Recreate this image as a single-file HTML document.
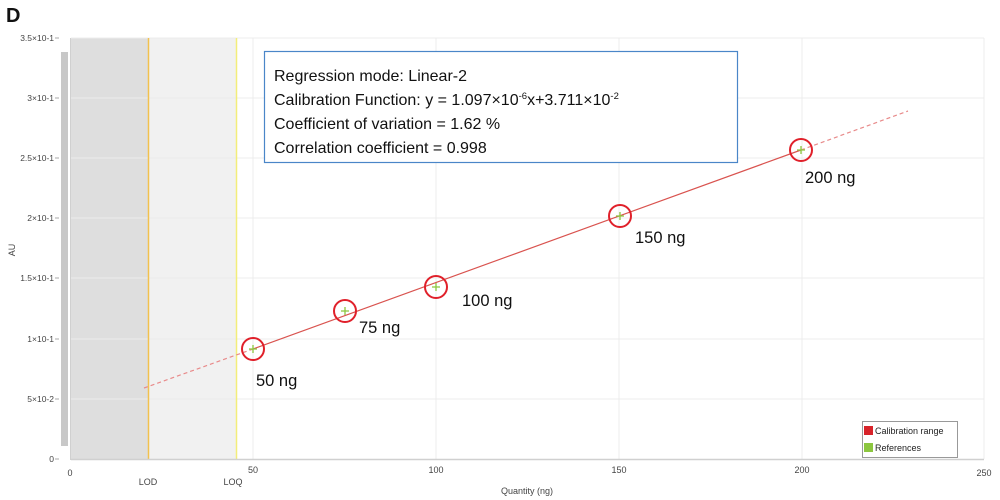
<!DOCTYPE html>
<html><head><meta charset="utf-8"><style>
html,body{margin:0;padding:0;background:#fff;}
svg{display:block;font-family:"Liberation Sans",sans-serif;}
</style></head><body>
<svg width="1000" height="500" viewBox="0 0 1000 500" xmlns="http://www.w3.org/2000/svg">
<rect width="1000" height="500" fill="#fff"/>
<text x="6" y="22" font-size="20" font-weight="bold" fill="#111">D</text>
<rect x="71" y="38" width="77" height="421" fill="#dedede"/>
<rect x="148" y="38" width="88" height="421" fill="#f1f1f1"/>
<g stroke="#ececec" stroke-width="1">
<line x1="71" y1="38" x2="984" y2="38"/>
<line x1="71" y1="98" x2="984" y2="98"/>
<line x1="71" y1="158" x2="984" y2="158"/>
<line x1="71" y1="218" x2="984" y2="218"/>
<line x1="71" y1="278" x2="984" y2="278"/>
<line x1="71" y1="339" x2="984" y2="339"/>
<line x1="71" y1="399" x2="984" y2="399"/>
<line x1="253" y1="38" x2="253" y2="459"/>
<line x1="436" y1="38" x2="436" y2="459"/>
<line x1="619" y1="38" x2="619" y2="459"/>
<line x1="802" y1="38" x2="802" y2="459"/>
<line x1="984" y1="38" x2="984" y2="459"/>
</g>
<line x1="148.5" y1="38" x2="148.5" y2="459" stroke="#f2c14e" stroke-width="1.5"/>
<line x1="236.5" y1="38" x2="236.5" y2="459" stroke="#f3ee7a" stroke-width="1.5"/>
<line x1="71" y1="459.5" x2="984" y2="459.5" stroke="#d0d0d0" stroke-width="1.5"/>
<line x1="70.5" y1="38" x2="70.5" y2="460" stroke="#d0d0d0" stroke-width="1"/>
<rect x="61" y="52" width="7" height="394" fill="#c8c8c8"/>
<g font-size="8.5" fill="#444" text-anchor="end">
<text x="54" y="41">3.5×10-1</text>
<text x="54" y="101">3×10-1</text>
<text x="54" y="161">2.5×10-1</text>
<text x="54" y="221">2×10-1</text>
<text x="54" y="281">1.5×10-1</text>
<text x="54" y="342">1×10-1</text>
<text x="54" y="402">5×10-2</text>
<text x="54" y="462">0</text>
</g>
<g stroke="#aaa"><line x1="55" y1="38" x2="59" y2="38"/><line x1="55" y1="98" x2="59" y2="98"/><line x1="55" y1="158" x2="59" y2="158"/><line x1="55" y1="218" x2="59" y2="218"/><line x1="55" y1="278" x2="59" y2="278"/><line x1="55" y1="339" x2="59" y2="339"/><line x1="55" y1="399" x2="59" y2="399"/><line x1="55" y1="459" x2="59" y2="459"/></g>
<text x="15" y="250" font-size="9" fill="#444" text-anchor="middle" transform="rotate(-90 15 250)">AU</text>
<g font-size="9" fill="#444" text-anchor="middle">
<text x="70" y="476">0</text>
<text x="253" y="473">50</text>
<text x="436" y="473">100</text>
<text x="619" y="473">150</text>
<text x="802" y="473">200</text>
<text x="984" y="476">250</text>
<text x="148" y="485">LOD</text>
<text x="233" y="485">LOQ</text>
<text x="527" y="494">Quantity (ng)</text>
</g>
<line x1="144" y1="388" x2="253" y2="349" stroke="#e88a8a" stroke-width="1.2" stroke-dasharray="4,3"/>
<line x1="253" y1="349" x2="801" y2="150" stroke="#d9534f" stroke-width="1.2"/>
<line x1="801" y1="150" x2="908" y2="111" stroke="#e88a8a" stroke-width="1.2" stroke-dasharray="4,3"/>
<g fill="none" stroke="#e0202a" stroke-width="2">
<circle cx="253" cy="349" r="11"/>
<circle cx="345" cy="311" r="11"/>
<circle cx="436" cy="287" r="11"/>
<circle cx="620" cy="216" r="11"/>
<circle cx="801" cy="150" r="11"/>
</g>
<g stroke="#8cc63f" stroke-width="1.3">
<path d="M249 349h8M253 345v8"/><path d="M341 311h8M345 307v8"/><path d="M432 287h8M436 283v8"/><path d="M616 216h8M620 212v8"/><path d="M797 150h8M801 146v8"/>
</g>
<g font-size="16.5" fill="#111">
<text x="256" y="386">50 ng</text>
<text x="359" y="333">75 ng</text>
<text x="462" y="306">100 ng</text>
<text x="635" y="243">150 ng</text>
<text x="805" y="183">200 ng</text>
</g>
<rect x="264.5" y="51.5" width="473" height="111" fill="#fff" stroke="#4a86c8" stroke-width="1.2"/>
<g font-size="16" fill="#111">
<text x="274" y="81">Regression mode: Linear-2</text>
<text x="274" y="105">Calibration Function: y = 1.097×10<tspan font-size="9.5" dy="-6">-6</tspan><tspan dy="6">x+3.711×10</tspan><tspan font-size="9.5" dy="-6">-2</tspan></text>
<text x="274" y="129">Coefficient of variation = 1.62 %</text>
<text x="274" y="153">Correlation coefficient = 0.998</text>
</g>
<rect x="862.5" y="421.5" width="95" height="36" fill="#fff" stroke="#999"/>
<rect x="864" y="426" width="9" height="9" fill="#d8232a"/>
<rect x="864" y="443" width="9" height="9" fill="#8cc63f"/>
<g font-size="9" fill="#222"><text x="875" y="434">Calibration range</text><text x="875" y="451">References</text></g>
</svg>
</body></html>
